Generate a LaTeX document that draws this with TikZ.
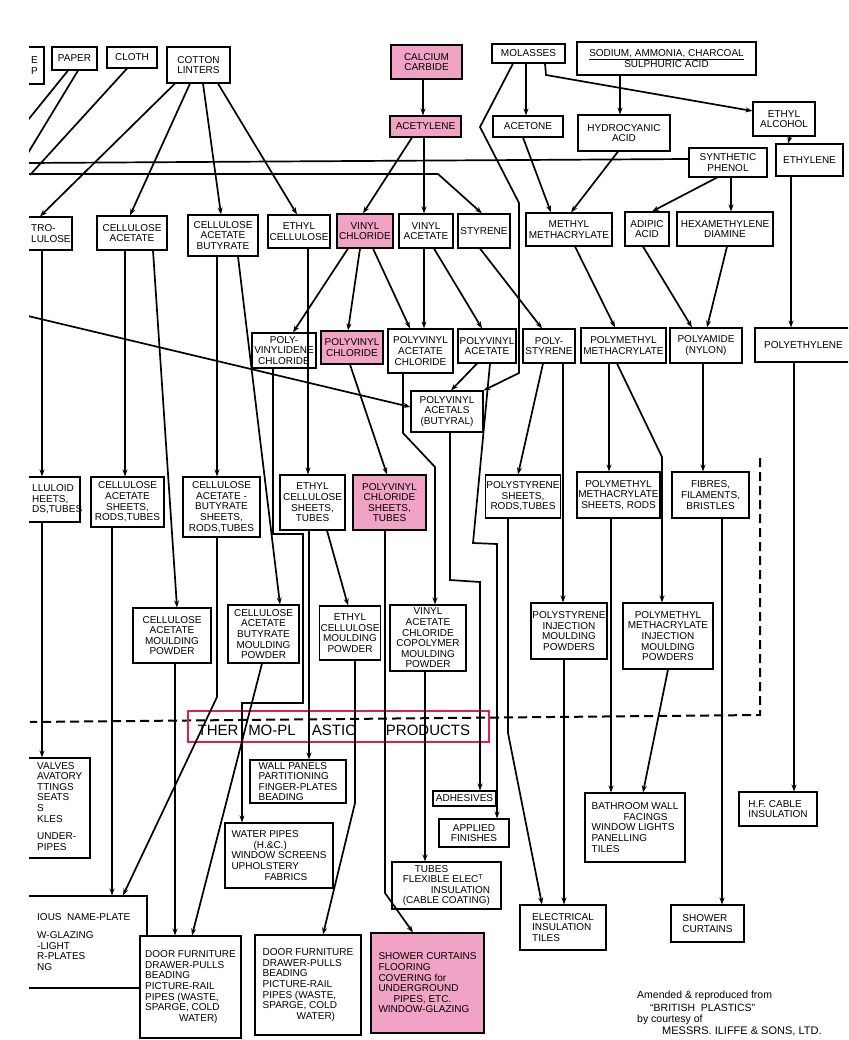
\documentclass[tikz,border=0pt]{standalone}
\usepackage{fontspec}
\setmainfont{Liberation Sans}
\usetikzlibrary{arrows.meta}
\definecolor{pinkfill}{RGB}{240,163,196}
\definecolor{redline}{RGB}{222,32,78}
\newcommand\bfnt{\fontsize{10}{10.6}\selectfont}
\newcommand\bx[7][]{\node[box,minimum width={(#5)-(#3)},minimum height={(#6)-(#4)},#1] (#2) at ({((#3)+(#5))/2},{((#4)+(#6))/2}) {#7};}
\begin{document}
\begin{tikzpicture}[x=1pt,y=-1pt,
  box/.style={draw,line width=1.1pt,fill=white,inner sep=0.8pt,align=center,font=\bfnt},
  pk/.style={fill=pinkfill},
  lft/.style={align=left},
  txt/.style={inner sep=0pt,align=left,font=\bfnt},
  ln/.style={line width=1.7pt},
  arr/.style={line width=1.7pt,-{Stealth[length=7pt,width=5pt]}},
  thermo/.style={inner sep=0pt,font=\fontsize{15}{15}\selectfont},
  cred/.style={inner sep=0pt,font=\fontsize{10.5}{11}\selectfont}]
\useasboundingbox (0,0) rectangle (848,1040);
\begin{scope}
\clip (29,0) rectangle (848,1040);
% ---------- top row ----------
\bx{lcut}{-10}{47}{44}{84}{}
\node[txt,anchor=west] (lcutt) at (31,65.5) {E\\P};
\bx{paper}{52}{47}{97}{70}{PAPER}
\bx{cloth}{107}{47}{157}{68}{CLOTH}
\bx{cotton}{167}{47}{230}{83}{COTTON\\LINTERS}
\bx[pk]{calcium}{391}{45}{462}{79}{CALCIUM\\CARBIDE}
\bx[pk]{acetylene}{390}{116}{461}{137}{ACETYLENE}
\bx{molasses}{492}{44}{565}{63}{MOLASSES}
\bx{sodium}{577}{42}{756}{75}{\underline{SODIUM, AMMONIA, CHARCOAL}\\SULPHURIC ACID}
\bx{acetone}{493}{116}{563}{137}{ACETONE}
\bx{hcn}{578}{115}{670}{151}{HYDROCYANIC\\ACID}
\bx{ethalc}{753}{102}{815}{136}{ETHYL\\ALCOHOL}
\bx{phenol}{689}{148}{767}{177}{SYNTHETIC\\PHENOL}
\bx{ethylene}{776}{144}{843}{176}{ETHYLENE}
% ---------- monomers ----------
\bx{nitro}{-10}{217}{72}{250}{}
\node[txt,anchor=west] (nitrot) at (31,233.5) {TRO-\\LULOSE};
\bx{ca}{97}{216}{167}{250}{CELLULOSE\\ACETATE}
\bx{cab}{188}{215}{258}{256}{CELLULOSE\\ACETATE\\BUTYRATE}
\bx{ec}{268}{215}{330}{248}{ETHYL\\CELLULOSE}
\bx[pk]{vc}{337}{214}{393}{248}{VINYL\\CHLORIDE}
\bx{va}{399}{214}{453}{248}{VINYL\\ACETATE}
\bx{sty}{458}{214}{510}{248}{STYRENE}
\bx{mma}{526}{213}{612}{246}{METHYL\\METHACRYLATE}
\bx{adipic}{625}{212}{669}{246}{ADIPIC\\ACID}
\bx{hexa}{677}{212}{773}{246}{HEXAMETHYLENE\\DIAMINE}
% ---------- polymers ----------
\bx{pvdc}{252}{333}{316}{368}{POLY-\\VINYLIDENE\\CHLORIDE}
\bx[pk]{pvc}{321}{331}{383}{364}{POLYVINYL\\CHLORIDE}
\bx{pvacc}{388}{329}{453}{373}{POLYVINYL\\ACETATE\\CHLORIDE}
\bx{pvac}{458}{329}{516}{363}{POLYVINYL\\ACETATE}
\bx{ps}{523}{329}{575}{363}{POLY-\\STYRENE}
\bx{pmma}{581}{328}{666}{363}{POLYMETHYL\\METHACRYLATE}
\bx{pa}{670}{328}{742}{363}{POLYAMIDE\\(NYLON)}
\bx{pe}{755}{328}{852}{362}{POLYETHYLENE}
\bx{acetals}{411}{391}{483}{432}{POLYVINYL\\ACETALS\\(BUTYRAL)}
% ---------- sheets ----------
\bx{celluloid}{-10}{477}{80}{522}{}
\node[txt,anchor=west] (celluloidt) at (32,499.5) {LLULOID\\HEETS,\\DS,TUBES};
\bx{casheet}{91}{477}{164}{527}{CELLULOSE\\ACETATE\\SHEETS,\\RODS,TUBES}
\bx{cabsheet}{183}{477}{260}{537}{CELLULOSE\\ACETATE -\\BUTYRATE\\SHEETS,\\RODS,TUBES}
\bx{ecsheet}{280}{475}{345}{530}{ETHYL\\CELLULOSE\\SHEETS,\\TUBES}
\bx[pk]{pvcsheet}{353}{475}{426}{530}{POLYVINYL\\CHLORIDE\\SHEETS,\\TUBES}
\bx{pssheet}{486}{475}{560}{518}{POLYSTYRENE\\SHEETS,\\RODS,TUBES}
\bx{pmmasheet}{577}{472}{660}{518}{POLYMETHYL\\METHACRYLATE\\SHEETS, RODS}
\bx{fibres}{672}{472}{749}{518}{FIBRES,\\FILAMENTS,\\BRISTLES}
% ---------- moulding powders ----------
\bx{camould}{133}{608}{211}{663}{CELLULOSE\\ACETATE\\MOULDING\\POWDER}
\bx{cabmould}{228}{605}{299}{663}{CELLULOSE\\ACETATE\\BUTYRATE\\MOULDING\\POWDER}
\bx{ecmould}{320}{606}{380}{660}{ETHYL\\CELLULOSE\\MOULDING\\POWDER}
\bx{vacmould}{390}{605}{466}{671}{VINYL\\ACETATE\\CHLORIDE\\COPOLYMER\\MOULDING\\POWDER}
\bx{psmould}{531}{603}{607}{659}{POLYSTYRENE\\INJECTION\\MOULDING\\POWDERS}
\bx{pmmamould}{623}{603}{713}{669}{POLYMETHYL\\METHACRYLATE\\INJECTION\\MOULDING\\POWDERS}
% ---------- products ----------
\bx{valves}{-10}{758}{90}{858}{}
\node[txt,anchor=north west] (valvest) at (37,762) {VALVES\\AVATORY\\TTINGS\\SEATS\\S\\KLES\\[7pt]UNDER-\\PIPES};
\bx[lft]{wall}{250}{760}{346}{803}{WALL PANELS\\PARTITIONING\\FINGER-PLATES\\BEADING}
\bx[lft]{water}{225}{823}{333}{888}{WATER PIPES\\\hspace*{2.2em}(H.\&C.)\\WINDOW SCREENS\\UPHOLSTERY\\\hspace*{3.3em}FABRICS}
\bx{adhesives}{433}{791}{496}{806}{ADHESIVES}
\bx{applied}{439}{819}{509}{847}{APPLIED\\FINISHES}
\bx[lft]{tubes}{392}{862}{501}{909}{\hspace*{1.2em}TUBES\\FLEXIBLE ELEC\textsuperscript{T}\\\hspace*{2.8em}INSULATION\\(CABLE COATING)}
\bx[lft]{bathroom}{585}{793}{685}{862}{BATHROOM WALL\\\hspace*{3.2em}FACINGS\\WINDOW LIGHTS\\PANELLING\\TILES}
\bx[lft]{hfcable}{739}{792}{817}{826}{H.F. CABLE\\INSULATION}
\bx{various}{-10}{896}{147}{988}{}
\node[txt,anchor=north west] (varioust) at (37,913) {IOUS\ \ NAME-PLATE\\[8pt]W-GLAZING\\-LIGHT\\R-PLATES\\NG};
\bx[lft]{door1}{140}{936}{241}{1038}{DOOR FURNITURE\\DRAWER-PULLS\\BEADING\\PICTURE-RAIL\\PIPES (WASTE,\\SPARGE, COLD\\\hspace*{3.4em}WATER)}
\bx[lft]{door2}{255}{935}{361}{1035}{DOOR FURNITURE\\DRAWER-PULLS\\BEADING\\PICTURE-RAIL\\PIPES (WASTE,\\SPARGE, COLD\\\hspace*{3.4em}WATER)}
\bx[pk,lft]{shower1}{371}{933}{484}{1033}{SHOWER CURTAINS\\FLOORING\\COVERING for\\UNDERGROUND\\\hspace*{1.5em}PIPES, ETC.\\WINDOW-GLAZING}
\bx[lft]{elec}{520}{905}{606}{950}{ELECTRICAL\\INSULATION\\TILES}
\bx[lft]{shower2}{671}{905}{744}{942}{SHOWER\\CURTAINS}
% ---------- thermo-plastic band ----------
\draw[line width=2pt,dash pattern=on 9pt off 5pt] (760,458) -- (760,715) -- (30,722);
\node[draw=redline,line width=1.6pt,minimum width=301,minimum height=31,inner sep=0pt] (thermo) at (338.5,726.5) {};
\node[thermo] (th1) at (218,730) {THER};
\node[thermo] (th2) at (272,730) {MO-PL};
\node[thermo] (th3) at (334,730) {ASTIC};
\node[thermo] (th4) at (428,730) {PRODUCTS};
% ---------- free ends ----------
\coordinate (fp1) at (28,120);
\coordinate (fp2) at (28,153);
\coordinate (fc) at (30,175);
\coordinate (hl1) at (28,163);
\coordinate (hl2) at (28,174);
\coordinate (dl) at (28,316);
% ---------- connectors ----------
\draw[ln] (paper.south -| 68,0) -- (fp1);
\draw[ln] (paper.south -| 78,0) -- (fp2);
\draw[ln] (cloth.south -| 127,0) -- (fc);
\draw[ln] (hl1) -- (phenol.west |- 0,159);
\draw[arr] (hl2) -- (438,174) -- (sty.north -| 482,0);
\draw[arr] (cotton.south -| 175,0) -- (nitro.north -| 40,0);
\draw[arr] (cotton.south -| 190,0) -- (ca.north -| 130,0);
\draw[arr] (cotton.south -| 203,0) -- (cab.north -| 221,0);
\draw[arr] (cotton.south -| 218,0) -- (ec.north -| 297,0);
\draw[arr] (calcium.south -| 423,0) -- (acetylene.north -| 423,0);
\draw[arr] (acetylene.south -| 412,0) -- (vc.north -| 363,0);
\draw[arr] (acetylene.south -| 424,0) -- (va.north -| 424,0);
\draw[arr] (molasses.south -| 526,0) -- (acetone.north -| 526,0);
\draw[arr] (molasses.south -| 513,0) -- (480,127) -- (519,203) -- (519,373) -- (acetals.north east);
\draw[arr] (molasses.south -| 545,0) -- (546,75) -- (ethalc.west |- 0,111);
\draw[arr] (sodium.south -| 620,0) -- (hcn.north -| 620,0);
\draw[arr] (acetone.south -| 523,0) -- (mma.north -| 551,0);
\draw[arr] (hcn.south -| 618,0) -- (mma.north -| 571,0);
\draw[arr] (ethalc.south -| 790,0) -- (ethylene.north -| 788,0);
\draw[arr] (phenol.south -| 717,0) -- (adipic.north -| 652,0);
\draw[arr] (phenol.south -| 731,0) -- (hexa.north -| 731,0);
\draw[arr] (ethylene.south -| 791,0) -- (pe.north -| 791,0);
\draw[arr] (vc.south -| 348,0) -- (pvdc.north -| 293,0);
\draw[arr] (vc.south -| 360,0) -- (pvc.north -| 348,0);
\draw[arr] (vc.south -| 373,0) -- (pvacc.north -| 410,0);
\draw[arr] (va.south -| 424,0) -- (pvacc.north -| 424,0);
\draw[arr] (va.south -| 434,0) -- (pvac.north -| 482,0);
\draw[arr] (sty.south -| 480,0) -- (ps.north -| 542,0);
\draw[arr] (ec.south -| 308,0) -- (ecsheet.north -| 308,0);
\draw[arr] (mma.south -| 575,0) -- (pmma.north -| 615,0);
\draw[arr] (adipic.south -| 643,0) -- (pa.north -| 692,0);
\draw[arr] (hexa.south -| 727,0) -- (pa.north -| 707,0);
\draw[arr] (dl) -- (acetals.west |- 0,407);
\draw[arr] (pvac.south -| 477,0) -- (acetals.north -| 451,0);
\draw[arr] (nitro.south -| 42,0) -- (celluloid.north -| 42,0);
\draw[arr] (ca.south -| 125,0) -- (casheet.north -| 125,0);
\draw[arr] (ca.south -| 153,0) -- (camould.north -| 177,0);
\draw[arr] (cab.south -| 217,0) -- (cabsheet.north -| 217,0);
\draw[arr] (cab.south -| 238,0) -- (cabmould.north -| 280,0);
\draw[arr] (pvc.south -| 350,0) -- (pvcsheet.north -| 387,0);
\draw[arr] (ps.south -| 543,0) -- (pssheet.north -| 518,0);
\draw[arr] (pmma.south -| 609,0) -- (pmmasheet.north -| 609,0);
\draw[arr] (pmma.south -| 617,0) -- (662,457) -- (pmmamould.north -| 662,0);
\draw[arr] (pa.south -| 703,0) -- (fibres.north -| 703,0);
\draw[arr] (pe.south -| 794,0) -- (hfcable.north -| 794,0);
\draw[arr] (pvdc.south -| 273,0) -- (273,534) -- (303,534) -- (303,703) -- (242,703) -- (water.north -| 242,0);
\draw[arr] (pvacc.south -| 403,0) -- (403,433) -- (435,467) -- (vacmould.north -| 435,0);
\draw[arr] (acetals.south -| 450,0) -- (450,580) -- (480,582) -- (adhesives.north -| 480,0);
\draw[arr] (pvac.south -| 490,0) -- (473,543) -- (497,544) -- (applied.north -| 497,0);
\draw[arr] (pssheet.south -| 508,0) -- (508,733) -- (elec.north -| 542,0);
\draw[arr] (ps.south -| 563,0) -- (psmould.north -| 563,0);
\draw[arr] (psmould.south -| 564,0) -- (elec.north -| 564,0);
\draw[arr] (pmmasheet.south -| 611,0) -- (bathroom.north -| 611,0);
\draw[arr] (pmmamould.south -| 668,0) -- (bathroom.north -| 643,0);
\draw[arr] (fibres.south -| 722,0) -- (shower2.north -| 722,0);
\draw[arr] (casheet.south -| 112,0) -- (various.north -| 112,0);
\draw[arr] (cabsheet.south -| 217,0) -- (217,697) -- (various.north -| 123,0);
\draw[arr] (cabmould.south -| 262,0) -- (door1.north -| 192,0);
\draw[arr] (camould.south -| 175,0) -- (door1.north -| 175,0);
\draw[arr] (celluloid.south -| 42,0) -- (valves.north -| 42,0);
\draw[arr] (ecsheet.south -| 309,0) -- (wall.north -| 309,0);
\draw[arr] (ecsheet.south -| 327,0) -- (ecmould.north -| 348,0);
\draw[arr] (ecmould.south -| 355,0) -- (355,803) -- (door2.north -| 323,0);
\draw[arr] (vacmould.south -| 425,0) -- (tubes.north -| 425,0);
\draw[arr] (pvcsheet.south -| 385,0) -- (385,893) -- (shower1.north -| 413,0);
\end{scope}
% ---------- credit ----------
\node[cred,anchor=west] (cr1) at (637,996) {Amended \& reproduced from};
\node[cred,anchor=west] (cr2) at (650,1008) {“BRITISH\ \ PLASTICS”};
\node[cred,anchor=west] (cr3) at (637,1020) {by courtesy of};
\node[cred,anchor=west,font=\fontsize{11}{11}\selectfont] (cr4) at (662,1031) {MESSRS.\ ILIFFE \& SONS, LTD.};
\end{tikzpicture}
\end{document}
